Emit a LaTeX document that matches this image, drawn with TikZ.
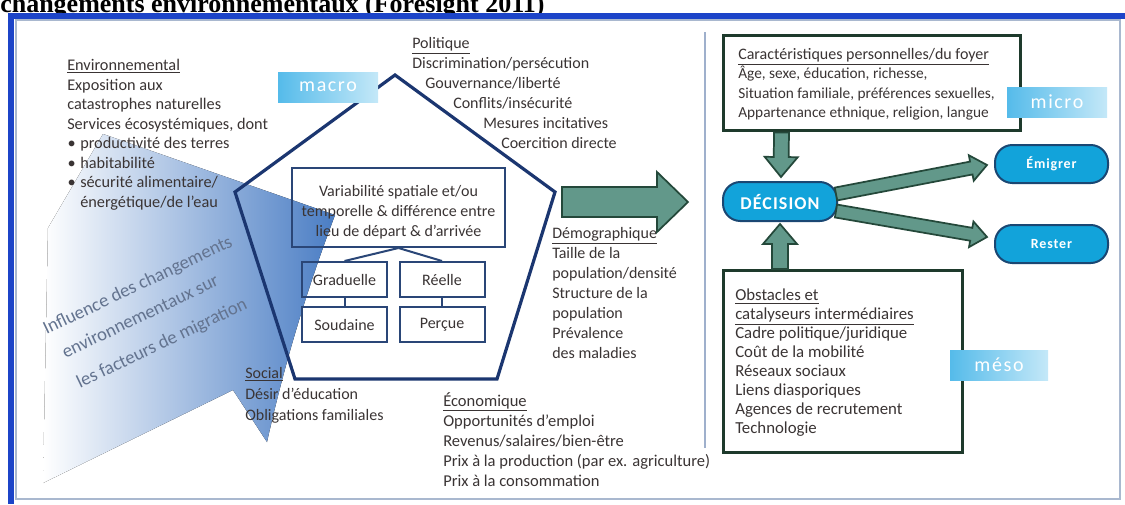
\documentclass[tikz,border=0pt]{standalone}
\usepackage{fontspec}
\setmainfont{Carlito}
\newfontfamily\titlefont{Liberation Serif}
\newfontfamily\lblfont[LetterSpace=8]{Carlito}
\newfontfamily\pillfont[LetterSpace=6]{Carlito}
\usetikzlibrary{calc}
\definecolor{txtc}{HTML}{3A3434}
\definecolor{frameblue}{HTML}{1C44C8}
\definecolor{framegray}{HTML}{A9B8CF}
\definecolor{sepc}{HTML}{9FB0CC}
\definecolor{pentc}{HTML}{1B3670}
\definecolor{boxc}{HTML}{2A4677}
\definecolor{gboxc}{HTML}{1E3A2C}
\definecolor{arrfill}{HTML}{62988A}
\definecolor{arrdraw}{HTML}{24483A}
\definecolor{pillfill}{HTML}{12A3DA}
\definecolor{pilldraw}{HTML}{1A4773}
\definecolor{shadeblue}{HTML}{4A7DC4}
\definecolor{lblA}{HTML}{55BBEA}
\definecolor{lblB}{HTML}{C4E8F8}
\definecolor{rotc}{HTML}{63738F}
\newcommand\fatarr[5]{%
  \coordinate (faC) at ($(#2)!#5!(#1)$);
  \filldraw[fatarrow] ($(#1)!#3!90:(#2)$) -- ($(faC)!#3!90:(#2)$) -- ($(faC)!#4!90:(#2)$) -- (#2) -- ($(faC)!#4!-90:(#2)$) -- ($(faC)!#3!-90:(#2)$) -- ($(#1)!#3!-90:(#2)$) -- cycle;}
\newcommand\bul{\makebox[9.75pt][l]{\hspace{0.3pt}\textbullet}}
\begin{document}
\begin{tikzpicture}[x=0.75pt,y=-0.75pt,
  inbox/.style={draw=boxc, line width=1.5pt, inner sep=0pt},
  gbox/.style={draw=gboxc, line width=2.25pt, inner sep=0pt},
  pill/.style={draw=pilldraw, fill=pillfill, line width=1.5pt, rounded corners=13pt, inner sep=0pt, text=white},
  lbl/.style={left color=lblA, right color=lblB, inner sep=0pt, text=white, font=\lblfont\fontsize{15}{18}\selectfont},
  fatarrow/.style={fill=arrfill, draw=arrdraw, line width=1.3pt, line join=miter},
  txt/.style={inner sep=0pt, text=txtc, align=left, anchor=north west},
  rottxt/.style={inner sep=0pt, text=rotc, rotate=25.5, font=\fontsize{14}{16}\selectfont},
  smallbox/.style={inbox, minimum width=63.75pt, minimum height=26.25pt, text=txtc, font=\fontsize{12}{14}\selectfont}
]
\useasboundingbox (0,0) rectangle (1125,504);
\fill[white] (0,0) rectangle (1125,504);
% title
\node[anchor=base west, inner sep=0pt, font=\titlefont\bfseries\fontsize{19.5}{20}\selectfont] (title) at (0,12) {changements environnementaux (Foresight 2011)};
% frame
\draw[framegray, line width=1.5pt] (16,20) rectangle (1120,499);
\fill[frameblue] (8,13) rectangle (1125,19);
\fill[frameblue] (8,13) rectangle (14,504);
\draw[sepc, line width=1.5pt] (705,32) -- (705,448);
% influence shading
\fill[left color=white, right color=shadeblue] (43,483) -- (48,228) -- (103,134) -- (335,215) .. controls (322,250) and (292,330) .. (267,442) -- (233,390) -- cycle;
% pentagon
\draw[pentc, line width=2.4pt, line join=miter] (395,75) -- (555,192) -- (497,379) -- (295,379) -- (235,192) -- cycle;
% inner boxes
\node[inbox, minimum width=159.75pt, minimum height=59.25pt] (var) at (398.5,207.5) {};
\node[txt, anchor=center, align=center, font=\fontsize{12}{15}\selectfont] (vartxt) at (398.5,212) {Variabilité spatiale et/ou\\temporelle \& différence entre\\lieu de départ \& d'arrivée};
\node[smallbox] (grad) at (344.5,279.5) {Graduelle};
\node[smallbox] (reel) at (442,279.5) {Réelle};
\node[smallbox] (soud) at (344.5,324.5) {Soudaine};
\node[smallbox] (perc) at (442,324.5) {Perçue};
\draw[boxc, line width=1.5pt] (var.south) -- (grad.north);
\draw[boxc, line width=1.5pt] (var.south) -- (reel.north);
\draw[boxc, line width=1.5pt] (grad.south) -- (soud.north);
\draw[boxc, line width=1.5pt] (reel.south) -- (perc.north);
% left texts
\node[txt, font=\fontsize{12.2}{14.625}\selectfont] (env) at (67,59) {\underline{Environnemental}\\Exposition aux\\catastrophes naturelles\\Services écosystémiques, dont\\\bul productivité des terres\\\bul habitabilité\\\bul sécurité alimentaire/\\\hspace*{9.75pt}énergétique/de l'eau};
\node[txt, font=\fontsize{12}{15}\selectfont] (pol) at (412,37) {\underline{Politique}\\Discrimination/persécution\\\hspace*{9.75pt}Gouvernance/liberté\\\hspace*{30.75pt}Conflits/insécurité\\\hspace*{53.25pt}Mesures incitatives\\\hspace*{66.75pt}Coercition directe};
\node[txt, font=\fontsize{12}{15}\selectfont] (demo) at (552,227) {\underline{Démographique}\\Taille de la\\population/densité\\Structure de la\\population\\Prévalence\\des maladies};
\node[txt, font=\fontsize{12.4}{15}\selectfont] (eco) at (443,392) {\underline{Économique}\\Opportunités d'emploi\\Revenus/salaires/bien-être\\Prix à la production (par ex. agriculture)\\Prix à la consommation};
\node[txt, font=\fontsize{12}{15.75}\selectfont] (soc) at (245,367) {\underline{Social}\\Désir d'éducation\\Obligations familiales};
\node[rottxt] (inf1) at (138,286) {Influence des changements};
\node[rottxt] (inf2) at (140,316) {environnementaux sur};
\node[rottxt] (inf3) at (162,344) {les facteurs de migration};
% right panel
\node[gbox, minimum width=222.75pt, minimum height=71.25pt] (carac) at (871.5,82.5) {};
\node[txt, font=\fontsize{11.5}{14.625}\selectfont] (caractxt) at (738,48) {{\fontsize{12}{14.625}\selectfont\underline{Caractéristiques personnelles/du foyer}}\\Âge, sexe, éducation, richesse,\\Situation familiale, préférences sexuelles,\\Appartenance ethnique, religion, langue};
\node[gbox, minimum width=179.25pt, minimum height=136.5pt] (obst) at (842.5,361) {};
\node[txt, font=\fontsize{12.6}{14.25}\selectfont] (obsttxt) at (735,289) {\underline{Obstacles et}\\\underline{catalyseurs intermédiaires}\\Cadre politique/juridique\\Coût de la mobilité\\Réseaux sociaux\\Liens diasporiques\\Agences de recrutement\\Technologie};
\node[pill, minimum width=85.5pt, minimum height=29.25pt, font=\pillfont\bfseries\fontsize{13.5}{15}\selectfont] (deci) at (780,201.5) {DÉCISION};
\node[pill, minimum width=84.75pt, minimum height=28.5pt, font=\pillfont\bfseries\fontsize{10.5}{12}\selectfont] (emig) at (1051.5,164) {Émigrer};
\node[pill, minimum width=84.75pt, minimum height=28.5pt, font=\pillfont\bfseries\fontsize{10.5}{12}\selectfont] (rest) at (1051.5,244) {Rester};
% arrows
\coordinate (bigA) at (562,202);
\coordinate (bigB) at (688,202);
\fatarr{bigA}{bigB}{11.25pt}{22.5pt}{23.25pt}
\coordinate (dA) at ($(carac.south)+(-90,1)$);
\coordinate (dB) at ($(deci.north)+(1,-4)$);
\fatarr{dA}{dB}{5.6pt}{12.4pt}{15pt}
\coordinate (uA) at ($(deci.south)+(0,47)$);
\coordinate (uB) at ($(deci.south)+(0,2)$);
\fatarr{uA}{uB}{6pt}{12.75pt}{15pt}
\coordinate (eA) at ($(deci.east)+(-2,-7.5)$);
\coordinate (eB) at ($(emig.west)+(-7,1)$);
\fatarr{eA}{eB}{4.9pt}{9.75pt}{12pt}
\coordinate (rA) at ($(deci.east)+(-2,9.5)$);
\coordinate (rB) at ($(rest.west)+(-7,-7)$);
\fatarr{rA}{rB}{4.9pt}{9.75pt}{12pt}
% level labels
\node[lbl, minimum width=75pt, minimum height=22.5pt] (macro) at (328,87) {macro};
\node[lbl, minimum width=75pt, minimum height=22.5pt] (micro) at (1057,102) {micro};
\node[lbl, minimum width=73.5pt, minimum height=22.5pt] (meso) at (999,365) {méso};
\end{tikzpicture}
\end{document}
